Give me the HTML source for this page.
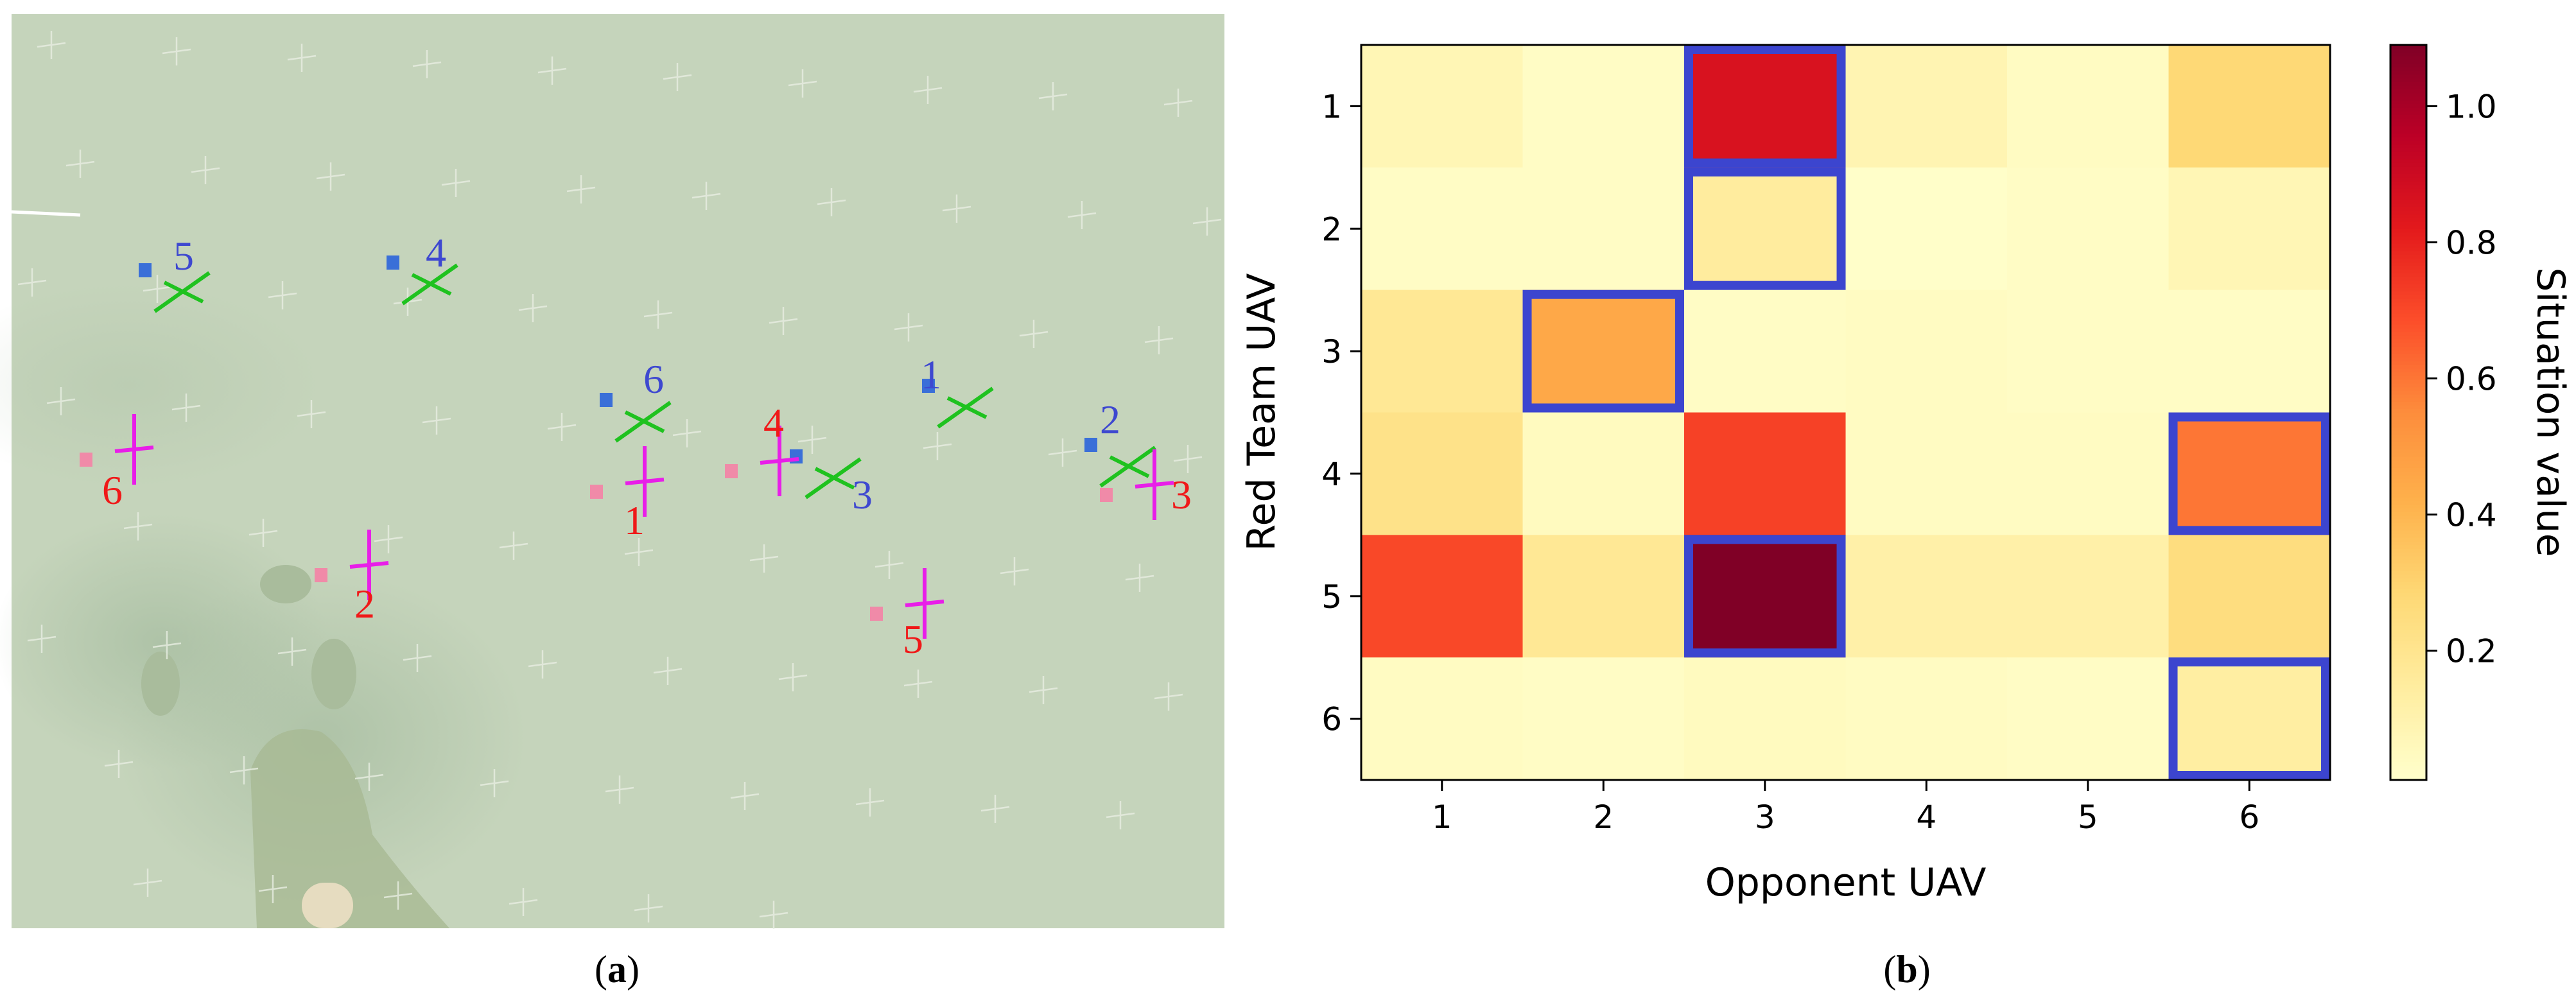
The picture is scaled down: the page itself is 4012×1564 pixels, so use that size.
<!DOCTYPE html>
<html><head><meta charset="utf-8">
<style>
html,body{margin:0;padding:0;background:#fff;}
body{width:4012px;height:1564px;overflow:hidden;}
svg{display:block;}
</style></head>
<body>
<svg id="fig" width="4012" height="1564" viewBox="0 0 4012 1564" xmlns="http://www.w3.org/2000/svg" font-family="'DejaVu Sans','Liberation Sans',sans-serif">
  <g>
    <defs>
      <radialGradient id="blob" cx="50%" cy="50%" r="50%">
        <stop offset="0" stop-color="#9fb79a" stop-opacity="0.6"/>
        <stop offset="1" stop-color="#9fb79a" stop-opacity="0"/>
      </radialGradient>
    </defs>
    <rect x="18" y="22" width="1889" height="1424" fill="#c5d4bb"/>
    <ellipse cx="500" cy="1150" rx="320" ry="260" fill="url(#blob)"/>
    <ellipse cx="250" cy="1000" rx="260" ry="200" fill="url(#blob)"/>
    <ellipse cx="200" cy="600" rx="300" ry="160" fill="url(#blob)" opacity="0.4"/>
    <path d="M400 1446 L390 1200 Q420 1120 500 1140 Q560 1180 580 1300 Q640 1380 700 1446 Z" fill="#a8b993" opacity="0.8"/>
    <rect x="470" y="1375" width="80" height="71" rx="35" fill="#e6dcc0"/>
    <ellipse cx="520" cy="1050" rx="35" ry="55" fill="#a9bc9c"/>
    <ellipse cx="250" cy="1065" rx="30" ry="50" fill="#a9bc9c"/>
    <ellipse cx="445" cy="910" rx="40" ry="30" fill="#a9bc9c"/>
    <line x1="18" y1="330" x2="125" y2="335" stroke="#ffffff" stroke-width="5"/>
    <g id="grid-crosses" stroke="#e8eee2" stroke-width="2.5" opacity="0.8"></g>
    <g id="uavs"></g>
  </g>
  <text x="961" y="1530" font-family="'Liberation Serif',serif" font-size="60" text-anchor="middle">(<tspan font-weight="bold">a</tspan>)</text>

  <g id="heatmap"></g>
  <g id="boxes"></g>
  <g id="axes"></g>
  <g id="colorbar"></g>
  <text x="2970" y="1530" font-family="'Liberation Serif',serif" font-size="60" text-anchor="middle">(<tspan font-weight="bold">b</tspan>)</text>
</svg>
<script>
const rowLabels = ["1","2","3","4","5","6"];
const colLabels = ["1","2","3","4","5","6"];
const row1 = [0.08, 0.03, 0.86, 0.09, 0.04, 0.28];
const row2 = [0.03, 0.03, 0.15, 0.02, 0.03, 0.08];
const row3 = [0.18, 0.45, 0.03, 0.04, 0.03, 0.03];
const row4 = [0.22, 0.05, 0.72, 0.04, 0.04, 0.60];
const row5 = [0.70, 0.18, 1.09, 0.12, 0.12, 0.25];
const row6 = [0.04, 0.03, 0.05, 0.04, 0.03, 0.14];
const highlightRows = [1, 2, 3, 4, 5, 6];
const highlightCols = [3, 3, 2, 6, 3, 6];
const cbTicks = [0.2, 0.4, 0.6, 0.8, 1.0];
const vmin = 0.01, vmax = 1.09;

const NS = "http://www.w3.org/2000/svg";
function mk(tag, attrs, parent){const e=document.createElementNS(NS,tag);for(const k in attrs)e.setAttribute(k,attrs[k]);parent.appendChild(e);return e;}

const ax = {left:2120, right:3629, top:70, bottom:1215};
const cw = (ax.right-ax.left)/colLabels.length, ch = (ax.bottom-ax.top)/rowLabels.length;
function xCol(i){return ax.left + i*cw;}
function yRow(i){return ax.top + i*ch;}

const stops=["#ffffcc","#ffeda0","#fed976","#feb24c","#fd8d3c","#fc4e2a","#e31a1c","#bd0026","#800026"];
function hex(c){return [parseInt(c.slice(1,3),16),parseInt(c.slice(3,5),16),parseInt(c.slice(5,7),16)];}
function cmap(v){let t=(v-vmin)/(vmax-vmin);t=Math.max(0,Math.min(1,t))*(stops.length-1);const i=Math.min(Math.floor(t),stops.length-2),f=t-i;const a=hex(stops[i]),b=hex(stops[i+1]);return "rgb("+a.map((x,k)=>Math.round(x+(b[k]-x)*f)).join(",")+")";}

const rows=[row1,row2,row3,row4,row5,row6];
const hm=document.getElementById("heatmap");
rows.forEach((r,ri)=>r.forEach((v,ci)=>{
  const c=mk("rect",{x:xCol(ci),y:yRow(ri),width:cw+0.5,height:ch+0.5,fill:cmap(v)},hm);
  
  
}));
const bx=document.getElementById("boxes");
highlightRows.forEach((r,i)=>{
  const c=highlightCols[i]-1, rr=r-1;
  const b=mk("rect",{x:xCol(c)+7,y:yRow(rr)+7,width:cw-14,height:ch-14,fill:"none",stroke:"#3c45cf","stroke-width":14},bx);
  
  
});
const axg=document.getElementById("axes");
mk("rect",{x:ax.left,y:ax.top,width:ax.right-ax.left,height:ax.bottom-ax.top,fill:"none",stroke:"#000","stroke-width":3},axg);
rowLabels.forEach((l,i)=>{
  const y=yRow(i)+ch/2;
  mk("line",{x1:ax.left-17,y1:y,x2:ax.left,y2:y,stroke:"#000","stroke-width":3},axg);
  const t=mk("text",{x:ax.left-30,y:y+18,"font-size":50,"text-anchor":"end"},axg);t.textContent=l;
  
  
});
colLabels.forEach((l,i)=>{
  const x=xCol(i)+cw/2;
  mk("line",{x1:x,y1:ax.bottom,x2:x,y2:ax.bottom+17,stroke:"#000","stroke-width":3},axg);
  const t=mk("text",{x:x,y:ax.bottom+75,"font-size":50,"text-anchor":"middle"},axg);t.textContent=l;
  
  
});
let t=mk("text",{x:(ax.left+ax.right)/2,y:1395,"font-size":60,"text-anchor":"middle"},axg);t.textContent="Opponent UAV";


t=mk("text",{x:0,y:0,"font-size":60,"text-anchor":"middle",transform:"translate(1985,642) rotate(-90)"},axg);t.textContent="Red Team UAV";



const cb=document.getElementById("colorbar");
const cbx=3723, cbw=56;
function yCb(v){return ax.bottom-(v-vmin)/(vmax-vmin)*(ax.bottom-ax.top);}
const N=200;
for(let i=0;i<N;i++){
  const v0=vmin+(vmax-vmin)*i/N, v1=vmin+(vmax-vmin)*(i+1)/N;
  mk("rect",{x:cbx,y:yCb(v1),width:cbw,height:yCb(v0)-yCb(v1)+0.6,fill:cmap((v0+v1)/2)},cb);
}
mk("rect",{x:cbx,y:ax.top,width:cbw,height:ax.bottom-ax.top,fill:"none",stroke:"#000","stroke-width":3},cb);
cbTicks.forEach(v=>{
  const y=yCb(v);
  mk("line",{x1:cbx+cbw,y1:y,x2:cbx+cbw+17,y2:y,stroke:"#000","stroke-width":3},cb);
  const tt=mk("text",{x:cbx+cbw+30,y:y+18,"font-size":50},cb);tt.textContent=v.toFixed(1);
  
  
});
t=mk("text",{x:0,y:0,"font-size":60,"text-anchor":"middle",transform:"translate(3952,642) rotate(90)"},cb);t.textContent="Situation value";



const gc=document.getElementById("grid-crosses");
for(let r=0;r<8;r++)for(let c=0;c<10;c++){
  const x=80+c*195+(r%2)*60-r*15, y=70+r*185+c*10;
  if(x<40||x>1890||y>1430)continue;
  mk("path",{d:`M${x-22} ${y+3}L${x+22} ${y-3}M${x} ${y-22}L${x} ${y+22}`},gc);
}
const ug=document.getElementById("uavs");
const blueL=[["5",286,420],["4",679,415],["6",1018,612],["1",1450,605],["2",1729,675],["3",1343,792]];
const redL=[["6",175,785],["1",988,832],["4",1205,680],["2",568,962],["5",1422,1017],["3",1840,792]];
const greenP=[[286,455],[672,443],[1004,657],[1506,635],[1300,745],[1759,727]];
const magP=[[209,700],[1004,750],[1214,718],[575,880],[1440,940],[1798,755]];
greenP.forEach(p=>{mk("path",{d:`M${p[0]-45} ${p[1]+30}L${p[0]+40} ${p[1]-30}M${p[0]-30} ${p[1]-15}L${p[0]+30} ${p[1]+15}`,stroke:"#1fc21f","stroke-width":6,fill:"none"},ug);
  mk("rect",{x:p[0]-70,y:p[1]-45,width:20,height:22,fill:"#3a6fd8"},ug);});
magP.forEach(p=>{mk("path",{d:`M${p[0]} ${p[1]-55}L${p[0]} ${p[1]+55}M${p[0]-30} ${p[1]+3}L${p[0]+30} ${p[1]-3}`,stroke:"#e81ee8","stroke-width":6,fill:"none"},ug);
  mk("rect",{x:p[0]-85,y:p[1]+5,width:20,height:22,fill:"#f08aa8"},ug);});
blueL.forEach(l=>{const e=mk("text",{x:l[1],y:l[2],"font-size":64,fill:"#3e48d0","font-family":"'Liberation Serif',serif","text-anchor":"middle"},ug);e.textContent=l[0];
  
  });
redL.forEach(l=>{const e=mk("text",{x:l[1],y:l[2],"font-size":64,fill:"#f01818","font-family":"'Liberation Serif',serif","text-anchor":"middle"},ug);e.textContent=l[0];
  
  });
</script>
</body></html>
